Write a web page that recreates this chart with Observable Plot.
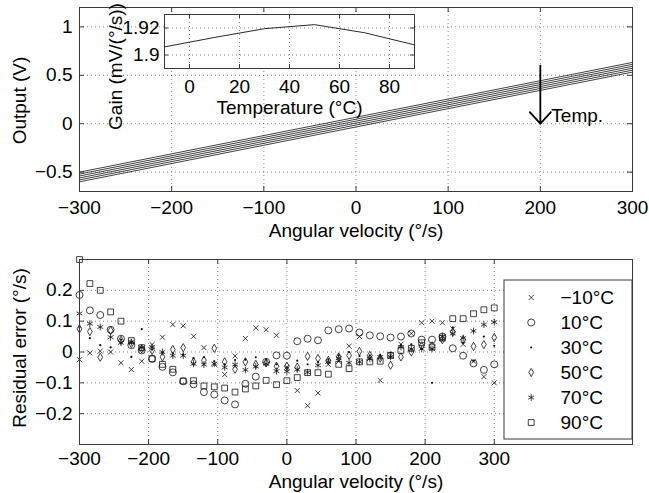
<!DOCTYPE html>
<html>
<head>
<meta charset="utf-8">
<script src="https://cdn.jsdelivr.net/npm/d3@7"></script>
<script src="https://cdn.jsdelivr.net/npm/@observablehq/plot@0.6"></script>
<style>
  html, body { margin: 0; padding: 0; background: #fff; }
  #root { position: relative; width: 649px; height: 493px; overflow: hidden; }
  #root > div { position: absolute; }
  svg { overflow: visible; }
</style>
</head>
<body>
<div id="root">
  <div id="top" style="left:0;top:0"></div>
  <div id="inset" style="left:0;top:0"></div>
  <div id="bottom" style="left:0;top:240px"></div>
  <div id="legend" style="left:503px;top:279px"></div>
</div>
<script>
// ---------- data ----------
const temps = [-10, 10, 30, 50, 70, 90];
const tempLabels = ["\u221210\u00b0C", "10\u00b0C", "30\u00b0C", "50\u00b0C", "70\u00b0C", "90\u00b0C"];

// top panel: output lines (V) at the ends of the velocity range
const velocityEnds = [-300, 300];
const outputAtStart = [-0.500, -0.520, -0.540, -0.560, -0.580, -0.600];
const outputAtEnd   = [0.633, 0.613, 0.593, 0.573, 0.553, 0.533];

// inset: gain vs temperature
const gainTemps = [-10, 10, 30, 50, 70, 90];
const gainValues = [1.906, 1.913, 1.9195, 1.9225, 1.9165, 1.9075];

// bottom panel: residual error (°/s)
const velocities = [-300,-285,-270,-255,-240,-225,-210,-195,-180,-165,-150,-135,-120,-105,-90,-75,-60,-45,-30,-15,0,15,30,45,60,75,90,105,120,135,150,165,180,195,210,225,240,255,270,285,300];
const errM10 = [-0.025,-0.003,0.003,0.0,-0.035,-0.057,-0.03,0.024,0.048,0.089,0.085,0.051,0.014,-0.04,-0.073,-0.013,0.044,0.078,0.072,0.054,-0.05,-0.125,-0.174,-0.133,-0.04,-0.03,0.019,0.05,-0.02,-0.092,-0.01,0.025,0.06,0.095,0.1,0.095,0.075,0.025,-0.03,-0.08,-0.1];
const err10 = [0.185,0.135,0.12,0.072,0.043,0.022,0.005,-0.022,-0.048,-0.066,-0.095,-0.105,-0.13,-0.138,-0.157,-0.17,-0.103,-0.08,-0.032,-0.011,-0.012,0.035,0.043,0.038,0.07,0.074,0.076,0.063,0.054,0.051,0.047,0.05,0.06,0.04,0.04,0.05,0.012,-0.012,-0.037,-0.058,-0.04];
const err30 = [0.08,0.045,0.022,0.015,0.04,-0.016,0.074,0.008,-0.003,-0.005,-0.008,-0.02,-0.017,-0.03,-0.04,-0.026,-0.025,-0.017,-0.025,-0.04,-0.05,-0.028,-0.04,-0.032,-0.024,-0.011,0.0,-0.013,-0.011,-0.011,-0.002,0.022,0.025,0.01,-0.1,0.04,0.08,0.03,-0.03,0.05,0.02];
const err50 = [0.075,0.066,-0.017,0.07,0.038,0.027,0.01,0.005,-0.016,0.008,0.014,-0.032,-0.027,0.012,-0.032,-0.056,-0.032,-0.04,-0.035,-0.046,-0.046,-0.049,-0.014,-0.021,-0.027,-0.016,-0.011,0.002,-0.011,-0.02,-0.043,-0.016,0.0,0.02,0.02,0.04,0.065,0.04,0.018,0.024,0.047];
const err70 = [0.125,0.092,0.081,0.048,0.03,0.032,0.014,0.016,0.0,-0.012,-0.012,-0.038,-0.041,-0.038,-0.05,-0.041,-0.058,-0.047,-0.038,-0.062,-0.063,-0.057,-0.066,-0.043,-0.032,-0.02,-0.035,-0.032,-0.022,-0.016,-0.016,0.016,0.01,0.01,0.01,0.05,0.06,0.045,0.068,0.089,0.097];
const err90 = [0.3,0.222,0.2,0.13,0.1,0.037,0.014,-0.022,-0.04,-0.056,-0.094,-0.093,-0.11,-0.113,-0.117,-0.13,-0.12,-0.11,-0.092,-0.106,-0.093,-0.083,-0.067,-0.067,-0.072,-0.04,-0.054,-0.032,-0.032,-0.03,-0.011,0.005,0.012,0.03,0.016,0.045,0.108,0.108,0.124,0.137,0.143];

// ticks
const topTicksX = [-300, -200, -100, 0, 100, 200, 300];
const topTicksY = [-0.5, 0, 0.5, 1];
const insetTicksX = [0, 20, 40, 60, 80];
const insetTicksY = [1.9, 1.92];
const botTicksX = [-300, -200, -100, 0, 100, 200, 300];
const botTicksY = [-0.2, -0.1, 0, 0.1, 0.2];

// annotation
const arrowVelocity = 200, arrowFrom = 0.6, arrowTo = 0.0, arrowText = "Temp.", arrowTextY = 0.08;

// ---------- styling ----------
const FONT = "'Liberation Sans', Arial, Helvetica, sans-serif";
const fmt = d3.format("");
const INK = "#111";
const FRAME = "#3a3a3a";
const gridStyle = {stroke: "#000", strokeOpacity: 0.6, strokeDasharray: "1,3", strokeWidth: 0.8};
const baseStyle = {fontFamily: FONT, fontSize: "19px", color: "#000", background: "transparent", overflow: "visible"};
const titleStyle = {text: d => d, textAnchor: "middle", lineAnchor: "middle", fill: "#000"};

function inwardTicks(xt, yt, xd, yd, len) {
  return [
    Plot.ruleX(xt, {y1: yd[0], y2: yd[0], insetBottom: len, stroke: FRAME}),
    Plot.ruleX(xt, {y1: yd[1], y2: yd[1], insetTop: len, stroke: FRAME}),
    Plot.ruleY(yt, {x1: xd[0], x2: xd[0], insetLeft: len, stroke: FRAME}),
    Plot.ruleY(yt, {x1: xd[1], x2: xd[1], insetRight: len, stroke: FRAME})
  ];
}

// ---------- top panel ----------
const xDomTop = [-300, 300], yDomTop = [-0.7, 1.2];
const lineData = temps.flatMap((t, i) => [
  {t, w: velocityEnds[0], v: outputAtStart[i]},
  {t, w: velocityEnds[1], v: outputAtEnd[i]}
]);
const topPlot = Plot.plot({
  width: 649, height: 245,
  marginLeft: 79, marginRight: 17, marginTop: 7, marginBottom: 54,
  x: {domain: xDomTop},
  y: {domain: yDomTop},
  style: baseStyle,
  marks: [
    Plot.gridX(topTicksX, gridStyle),
    Plot.gridY(topTicksY, gridStyle),
    Plot.line(lineData, {x: "w", y: "v", z: "t", stroke: INK, strokeWidth: 0.8}),
    Plot.arrow([0], {x1: () => arrowVelocity, x2: () => arrowVelocity, y1: () => arrowFrom, y2: () => arrowTo,
      stroke: "#000", strokeWidth: 1.8, headLength: 13, headAngle: 85}),
    Plot.text([arrowText], {x: () => arrowVelocity, y: () => arrowTextY, text: d => d, dx: 11, textAnchor: "start", fill: "#000"}),
    ...inwardTicks(topTicksX, topTicksY, xDomTop, yDomTop, 5),
    Plot.axisX(topTicksX, {tickSize: 0, tickPadding: 9, tickFormat: fmt, label: null}),
    Plot.axisY(topTicksY, {tickSize: 0, tickPadding: 7, tickFormat: fmt, label: null}),
    Plot.text(["Angular velocity (\u00b0/s)"], {...titleStyle, frameAnchor: "bottom", dy: 39}),
    Plot.text(["Output (V)"], {...titleStyle, frameAnchor: "left", dx: -60, dy: 1, rotate: -90}),
    Plot.frame({stroke: FRAME, strokeWidth: 1})
  ]
});
document.getElementById("top").append(topPlot);

// ---------- inset ----------
const xDomIn = [-10, 90], yDomIn = [1.89, 1.93];
const insetPlot = Plot.plot({
  width: 440, height: 125,
  marginLeft: 164, marginRight: 26, marginTop: 14, marginBottom: 57,
  x: {domain: xDomIn},
  y: {domain: yDomIn},
  style: baseStyle,
  marks: [
    Plot.frame({fill: "white", stroke: "none"}),
    Plot.gridX(insetTicksX, gridStyle),
    Plot.gridY(insetTicksY, gridStyle),
    Plot.line(gainTemps.map((t, i) => ({t, g: gainValues[i]})), {x: "t", y: "g", stroke: INK, strokeWidth: 0.9}),
    ...inwardTicks(insetTicksX, insetTicksY, xDomIn, yDomIn, 4),
    Plot.axisX(insetTicksX, {tickSize: 0, tickPadding: 11, tickFormat: fmt, label: null}),
    Plot.axisY(insetTicksY, {tickSize: 0, tickPadding: 5, tickFormat: fmt, label: null}),
    Plot.text(["Temperature (\u00b0C)"], {...titleStyle, frameAnchor: "bottom", dy: 39}),
    Plot.text(["Gain (mV/(\u00b0/s))"], {...titleStyle, frameAnchor: "left", dx: -49, dy: 25, rotate: -90}),
    Plot.frame({stroke: FRAME, strokeWidth: 1})
  ]
});
document.getElementById("inset").append(insetPlot);

// ---------- bottom panel ----------
const series = [
  {label: tempLabels[0], values: errM10, symbol: "times", r: 2.4, fill: "none"},
  {label: tempLabels[1], values: err10, symbol: "circle", r: 3.5, fill: "none"},
  {label: tempLabels[2], values: err30, symbol: "circle", r: 1.1, fill: INK},
  {label: tempLabels[3], values: err50, symbol: "diamond", r: 2.5, fill: "none"},
  {label: tempLabels[4], values: err70, symbol: "asterisk", r: 3.2, fill: "none"},
  {label: tempLabels[5], values: err90, symbol: "square2", r: 3.7, fill: "none"}
];
const xDomBot = [-300, 500], yDomBot = [-0.3, 0.3];
const botPlot = Plot.plot({
  width: 649, height: 253,
  marginLeft: 79, marginRight: 17, marginTop: 19, marginBottom: 49,
  x: {domain: xDomBot},
  y: {domain: yDomBot},
  style: baseStyle,
  marks: [
    Plot.gridX(botTicksX, gridStyle),
    Plot.gridY(botTicksY, gridStyle),
    ...series.map(s => Plot.dot(velocities.map((w, i) => ({w, e: s.values[i]})), {
      x: "w", y: "e", symbol: s.symbol, r: s.r, fill: s.fill,
      stroke: s.fill === "none" ? INK : "none", strokeWidth: 0.8
    })),
    ...inwardTicks(botTicksX, botTicksY, xDomBot, yDomBot, 5),
    Plot.axisX(botTicksX, {tickSize: 0, tickPadding: 7, tickFormat: fmt, label: null}),
    Plot.axisY(botTicksY, {tickSize: 0, tickPadding: 7, tickFormat: fmt, label: null}),
    Plot.text(["Angular velocity (\u00b0/s)"], {...titleStyle, frameAnchor: "bottom", dy: 37}),
    Plot.text(["Residual error (\u00b0/s)"], {...titleStyle, frameAnchor: "left", dx: -60, dy: -4, rotate: -90}),
    Plot.frame({stroke: FRAME, strokeWidth: 1})
  ]
});
document.getElementById("bottom").append(botPlot);

// ---------- legend ----------
const legendPlot = Plot.plot({
  width: 129, height: 160,
  marginLeft: 0.5, marginRight: 0.5, marginTop: 0.5, marginBottom: 0.5,
  x: {domain: [0, 1], axis: null},
  y: {type: "point", domain: tempLabels, range: [16.5, 143.5], padding: 0, axis: null},
  style: baseStyle,
  marks: [
    Plot.frame({fill: "white", stroke: FRAME, strokeWidth: 1}),
    ...series.map(s => Plot.dot([s.label], {
      y: d => d, frameAnchor: "left", dx: 27.2, symbol: s.symbol, r: s.r, fill: s.fill,
      stroke: s.fill === "none" ? INK : "none", strokeWidth: 0.8
    })),
    Plot.text(tempLabels, {y: d => d, text: d => d, frameAnchor: "left", dx: 56.5, textAnchor: "start", lineAnchor: "middle"})
  ]
});
document.getElementById("legend").append(legendPlot);
</script>
</body>
</html>
